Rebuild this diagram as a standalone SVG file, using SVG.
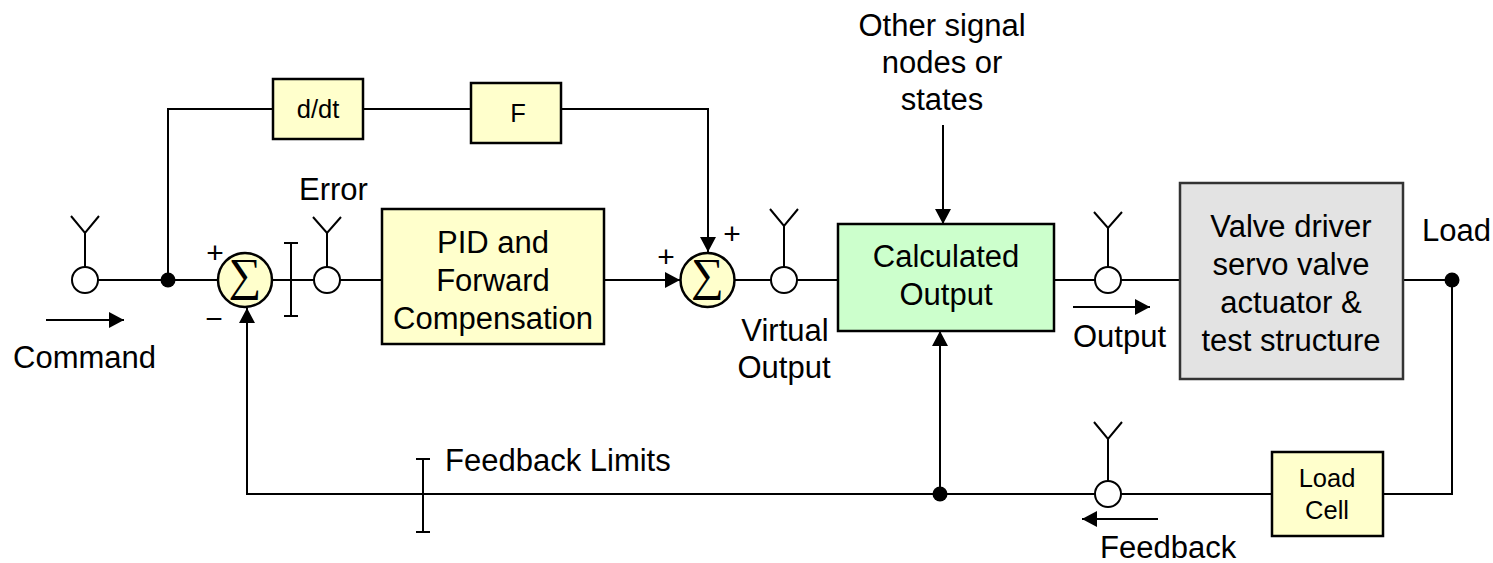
<svg xmlns="http://www.w3.org/2000/svg" width="1493" height="563" viewBox="0 0 1493 563">
<style>
.ln{fill:none;stroke:#000;stroke-width:2}
.bx{stroke:#000;stroke-width:2.5}
.yl{fill:#ffffcc}
.gr{fill:#ccffcc}
.gy{fill:#e3e3e3;stroke:#333}
.port{fill:#fff;stroke:#000;stroke-width:2}
.sum{fill:#ffffcc;stroke:#000;stroke-width:2.5}
.dot{fill:#000}
.t{font-family:"Liberation Sans",Arial,sans-serif;font-size:31px;fill:#000}
.s{font-family:"Liberation Sans",Arial,sans-serif;font-size:25.5px;fill:#000}
.sg{font-family:"Liberation Sans",Arial,sans-serif;font-size:30px;fill:#000}
.sig{font-family:"Liberation Serif","DejaVu Serif",serif;font-size:46px;fill:#000}
.m{text-anchor:middle}
</style>
<defs>
<marker id="ah" viewBox="0 0 15 16" refX="15" refY="8" markerWidth="15" markerHeight="16" markerUnits="userSpaceOnUse" orient="auto">
<path d="M0,0 L15,8 L0,16 z" fill="#000"/>
</marker>
</defs>

<g id="connectors">
<path class="ln" d="M98,280 H218"/>
<path class="ln" d="M168,280 V109 H273"/>
<path class="ln" d="M363,109 H471"/>
<path class="ln" d="M561,109 H708 V252" marker-end="url(#ah)"/>
<path class="ln" d="M272,280 H314"/>
<path class="ln" d="M340,280 H382"/>
<path class="ln" d="M604,280 H680" marker-end="url(#ah)"/>
<path class="ln" d="M735,280 H771"/>
<path class="ln" d="M797,280 H838"/>
<path class="ln" d="M1054,280 H1095"/>
<path class="ln" d="M1121,280 H1180"/>
<path class="ln" d="M1403,280 H1452 V494 H1383"/>
<path class="ln" d="M1272,494 H1121"/>
<path class="ln" d="M1095,494 H247 V308" marker-end="url(#ah)"/>
<path class="ln" d="M940,494 V331" marker-end="url(#ah)"/>
<path class="ln" d="M943,125 V224" marker-end="url(#ah)"/>
<path class="ln" d="M46,320 H124" marker-end="url(#ah)"/>
<path class="ln" d="M1073,307 H1150" marker-end="url(#ah)"/>
<path class="ln" d="M1158,519 H1082" marker-end="url(#ah)"/>
<circle class="dot" cx="168" cy="280" r="7.5"/>
<circle class="dot" cx="940" cy="494" r="7.5"/>
<circle class="dot" cx="1452" cy="280" r="7.5"/>
</g>

<g id="limit-error">
<path class="ln" d="M291,243 V316 M284,243 H298 M284,316 H298"/>
</g>
<g id="limit-feedback">
<path class="ln" d="M423,459 V532 M416,459 H430 M416,532 H430"/>
<text class="t" x="445" y="471">Feedback Limits</text>
</g>

<g id="port-command">
<path class="ln" d="M85,267 V233 M71,216 L85,233 L99,216"/>
<circle class="port" cx="85" cy="280" r="13"/>
<text class="t" x="13" y="368">Command</text>
</g>
<g id="port-error">
<path class="ln" d="M327,267 V233 M313,217 L327,233 L341,217"/>
<circle class="port" cx="327" cy="280" r="13"/>
<text class="t" x="299" y="200">Error</text>
</g>
<g id="port-virtual">
<path class="ln" d="M784,267 V226 M770,209 L784,226 L798,209"/>
<circle class="port" cx="784" cy="280" r="13"/>
<text class="t m" x="785" y="341">Virtual</text>
<text class="t m" x="784" y="378">Output</text>
</g>
<g id="port-output">
<path class="ln" d="M1108,267 V228 M1094,212 L1108,228 L1122,212"/>
<circle class="port" cx="1108" cy="280" r="13"/>
<text class="t" x="1073" y="347">Output</text>
</g>
<g id="port-feedback">
<path class="ln" d="M1108,481 V439 M1094,422 L1108,439 L1122,422"/>
<circle class="port" cx="1108" cy="494" r="13"/>
<text class="t" x="1100" y="558">Feedback</text>
</g>

<g id="sum1">
<circle class="sum" cx="245" cy="280" r="27"/>
<text class="sig m" x="245" y="290">∑</text>
<text class="sg m" x="215" y="263">+</text>
<text class="sg m" x="214" y="329">−</text>
</g>
<g id="sum2">
<circle class="sum" cx="707.5" cy="280" r="27"/>
<text class="sig m" x="707.5" y="290">∑</text>
<text class="sg m" x="666" y="267">+</text>
<text class="sg m" x="732" y="244">+</text>
</g>

<g id="ddt">
<rect class="bx yl" x="273" y="79" width="90" height="60"/>
<text class="s m" x="318" y="118">d/dt</text>
</g>
<g id="f">
<rect class="bx yl" x="471" y="83" width="90" height="60"/>
<text class="s m" x="518" y="122">F</text>
</g>
<g id="pid">
<rect class="bx yl" x="382" y="209" width="222" height="135"/>
<text class="t m" x="493" y="253">PID and</text>
<text class="t m" x="493" y="291">Forward</text>
<text class="t m" x="493" y="329">Compensation</text>
</g>
<g id="calc">
<rect class="bx gr" x="838" y="224" width="216" height="107"/>
<text class="t m" x="946" y="267">Calculated</text>
<text class="t m" x="946" y="305">Output</text>
</g>
<g id="other">
<text class="t m" x="942" y="36">Other signal</text>
<text class="t m" x="942" y="73">nodes or</text>
<text class="t m" x="942" y="110">states</text>
</g>
<g id="valve">
<rect class="bx gy" x="1180" y="183" width="223" height="196"/>
<text class="t m" x="1291" y="237">Valve driver</text>
<text class="t m" x="1291" y="275">servo valve</text>
<text class="t m" x="1291" y="313">actuator &amp;</text>
<text class="t m" x="1291" y="351">test structure</text>
</g>
<g id="load">
<text class="t" x="1422" y="241">Load</text>
</g>
<g id="loadcell">
<rect class="bx yl" x="1272" y="452" width="111" height="84"/>
<text class="s m" x="1327" y="487">Load</text>
<text class="s m" x="1327" y="519">Cell</text>
</g>
</svg>
